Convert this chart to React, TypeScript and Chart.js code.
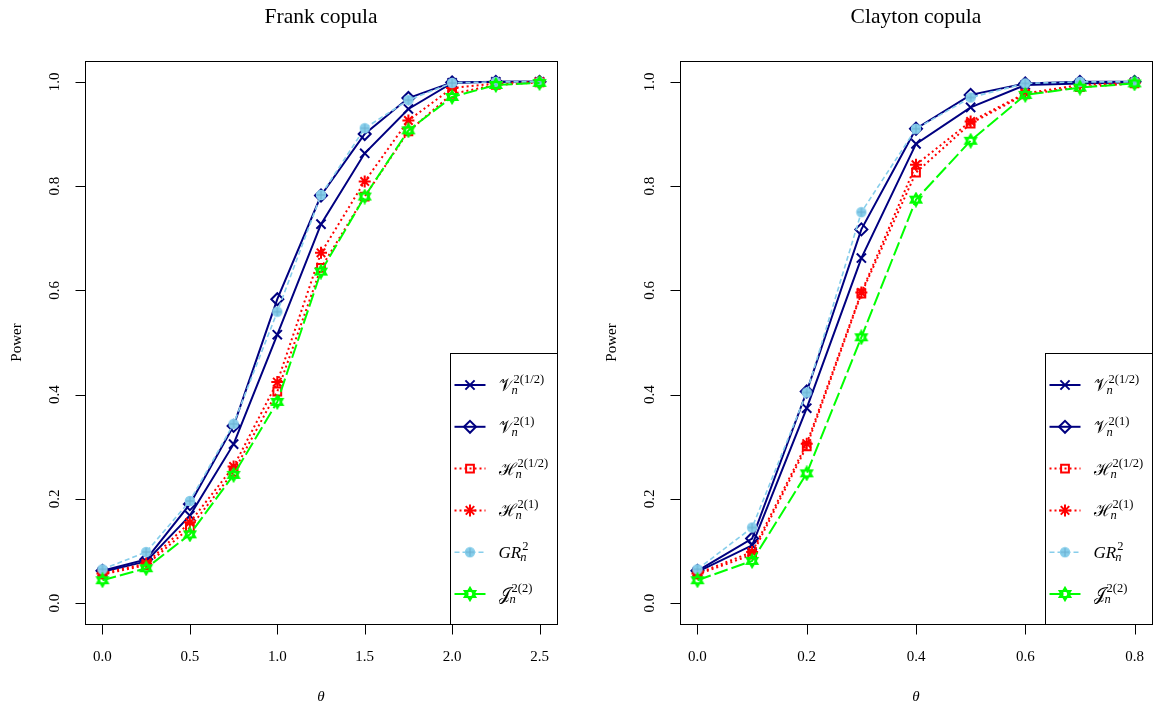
import React, { useEffect, useRef } from 'react';
import { Chart, registerables } from 'chart.js';
import { drawPoint } from 'chart.js/helpers';

Chart.register(...registerables);

// ---------- data ----------
const frankTheta = [0, 0.25, 0.5, 0.75, 1.0, 1.25, 1.5, 1.75, 2.0, 2.25, 2.5];
const frankV12 = [0.060, 0.080, 0.168, 0.305, 0.515, 0.727, 0.863, 0.948, 0.998, 1.000, 1.000];
const frankV1 = [0.062, 0.084, 0.190, 0.340, 0.583, 0.782, 0.900, 0.969, 0.999, 1.000, 1.000];
const frankH12 = [0.055, 0.073, 0.145, 0.252, 0.406, 0.643, 0.780, 0.905, 0.977, 0.994, 0.999];
const frankH1 = [0.057, 0.076, 0.155, 0.262, 0.424, 0.672, 0.809, 0.926, 0.988, 0.997, 1.000];
const frankGR = [0.065, 0.098, 0.196, 0.344, 0.559, 0.783, 0.911, 0.965, 0.998, 1.000, 1.000];
const frankJ = [0.044, 0.067, 0.132, 0.246, 0.386, 0.636, 0.780, 0.907, 0.971, 0.994, 0.998];

const claytonTheta = [0, 0.1, 0.2, 0.3, 0.4, 0.5, 0.6, 0.7, 0.8];
const claytonV12 = [0.060, 0.111, 0.374, 0.662, 0.881, 0.951, 0.994, 0.997, 0.999];
const claytonV1 = [0.062, 0.124, 0.406, 0.717, 0.910, 0.975, 0.997, 1.000, 1.000];
const claytonH12 = [0.055, 0.093, 0.301, 0.594, 0.826, 0.920, 0.976, 0.990, 0.997];
const claytonH1 = [0.057, 0.098, 0.306, 0.596, 0.841, 0.924, 0.978, 0.994, 0.998];
const claytonGR = [0.065, 0.145, 0.404, 0.750, 0.910, 0.970, 0.997, 1.000, 1.000];
const claytonJ = [0.044, 0.081, 0.249, 0.510, 0.774, 0.887, 0.975, 0.989, 0.997];

const frankXTicks = [0, 0.5, 1.0, 1.5, 2.0, 2.5];
const claytonXTicks = [0, 0.2, 0.4, 0.6, 0.8];
const powerTicks = [0, 0.2, 0.4, 0.6, 0.8, 1.0];

const legendBase = ['𝒱', '𝒱', 'ℋ', 'ℋ', 'GR', '𝒥'];
const legendSup = ['2(1/2)', '2(1)', '2(1/2)', '2(1)', '2', '2(2)'];
const seriesLabels = ['V_n^{2(1/2)}', 'V_n^{2(1)}', 'H_n^{2(1/2)}', 'H_n^{2(1)}', 'GR_n^2', 'J_n^{2(2)}'];

const SERIF = '"Liberation Serif", "Times New Roman", serif';
const NAVY = '#000080';
const RED = '#ff0000';
const SKY = '#87ceeb';
const GREEN = '#00ff00';

function makeCircleCross(): HTMLCanvasElement {
  const c = document.createElement('canvas');
  c.width = 12; c.height = 12;
  const g = c.getContext('2d')!;
  g.fillStyle = SKY;
  g.strokeStyle = SKY;
  g.lineWidth = 1.2;
  g.beginPath(); g.arc(6, 6, 4.6, 0, Math.PI * 2); g.fill(); g.stroke();
  g.strokeStyle = '#6aaed0';
  g.lineWidth = 1;
  g.beginPath(); g.moveTo(6, 1.8); g.lineTo(6, 10.2); g.moveTo(1.8, 6); g.lineTo(10.2, 6); g.stroke();
  return c;
}

function makeStarOfDavid(): HTMLCanvasElement {
  const c = document.createElement('canvas');
  c.width = 16; c.height = 16;
  const g = c.getContext('2d')!;
  g.strokeStyle = GREEN;
  g.lineWidth = 2;
  const r = 6.2;
  const tri = (a0: number) => {
    g.beginPath();
    for (let k = 0; k < 3; k++) {
      const a = a0 + (k * 2 * Math.PI) / 3;
      const px = 8 + r * Math.cos(a), py = 8 + r * Math.sin(a);
      if (k === 0) g.moveTo(px, py); else g.lineTo(px, py);
    }
    g.closePath(); g.stroke();
  };
  tri(-Math.PI / 2);
  tri(Math.PI / 2);
  return c;
}

function drawMathLabel(ctx: CanvasRenderingContext2D, x: number, baseline: number, base: string, sup: string) {
  ctx.textAlign = 'left';
  ctx.textBaseline = 'alphabetic';
  ctx.fillStyle = '#000';
  const isScript = base !== 'GR';
  ctx.font = isScript ? `17px "DejaVu Serif", ${SERIF}` : `italic 17px ${SERIF}`;
  ctx.fillText(base, x, baseline);
  const w = ctx.measureText(base).width;
  ctx.font = `12.5px ${SERIF}`;
  ctx.fillText(sup, x + w + 1, baseline - 8);
  ctx.font = `italic 12.5px ${SERIF}`;
  ctx.fillText('n', x + w - 1, baseline + 3);
}

const rDecor = {
  id: 'rDecor',
  afterDraw(chart: any, _args: any, opts: any) {
    const { ctx, chartArea: a } = chart;
    const xs = chart.scales.x, ys = chart.scales.y;
    const L = Math.round(a.left) + 0.5, T = Math.round(a.top) + 0.5;
    const R = Math.round(a.right) + 0.5, B = Math.round(a.bottom) + 0.5;
    ctx.save();
    // box
    ctx.strokeStyle = '#000';
    ctx.lineWidth = 1;
    ctx.setLineDash([]);
    ctx.strokeRect(L, T, R - L, B - T);
    // tick marks
    ctx.beginPath();
    for (const v of opts.xTicks as number[]) {
      const px = Math.round(xs.getPixelForValue(v)) + 0.5;
      ctx.moveTo(px, B); ctx.lineTo(px, B + 10);
    }
    for (const v of powerTicks) {
      const py = Math.round(ys.getPixelForValue(v)) + 0.5;
      ctx.moveTo(L, py); ctx.lineTo(L - 10, py);
    }
    ctx.stroke();
    ctx.fillStyle = '#000';
    // x tick labels
    ctx.font = `15px ${SERIF}`;
    ctx.textAlign = 'center';
    ctx.textBaseline = 'middle';
    for (const v of opts.xTicks as number[]) {
      ctx.fillText(v.toFixed(1), xs.getPixelForValue(v), a.bottom + 33);
    }
    // y tick labels (rotated)
    for (const v of powerTicks) {
      ctx.save();
      ctx.translate(a.left - 30, ys.getPixelForValue(v));
      ctx.rotate(-Math.PI / 2);
      ctx.fillText(v.toFixed(1), 0, 0);
      ctx.restore();
    }
    // axis titles
    ctx.save();
    ctx.translate(a.left - 68, (a.top + a.bottom) / 2);
    ctx.rotate(-Math.PI / 2);
    ctx.fillText('Power', 0, 0);
    ctx.restore();
    ctx.font = `italic 15px ${SERIF}`;
    ctx.fillText('θ', (a.left + a.right) / 2, a.bottom + 73);
    // title
    ctx.font = `21.5px ${SERIF}`;
    ctx.fillText(opts.title, (a.left + a.right) / 2, 17);
    // legend
    const lx = Math.round(a.right - 107.5) + 0.5, ly = Math.round(a.top + 291.7) + 0.5;
    ctx.fillStyle = '#fff';
    ctx.fillRect(lx, ly, R - lx, B - ly);
    ctx.strokeStyle = '#000';
    ctx.lineWidth = 1;
    ctx.strokeRect(lx, ly, R - lx, B - ly);
    chart.data.datasets.forEach((ds: any, i: number) => {
      const ry = ly + 31.5 + i * 41.8;
      ctx.save();
      ctx.strokeStyle = ds.borderColor;
      ctx.lineWidth = ds.borderWidth;
      ctx.setLineDash(ds.borderDash || []);
      ctx.beginPath();
      ctx.moveTo(lx + 4, ry);
      ctx.lineTo(lx + 35, ry);
      ctx.stroke();
      ctx.setLineDash([]);
      ctx.strokeStyle = ds.pointBorderColor;
      ctx.fillStyle = ds.pointBackgroundColor;
      ctx.lineWidth = ds.pointBorderWidth;
      drawPoint(ctx, { pointStyle: ds.pointStyle, rotation: 0, radius: ds.pointRadius, borderWidth: ds.pointBorderWidth }, lx + 19.5, ry);
      ctx.restore();
      drawMathLabel(ctx, lx + 48, ry + 6, legendBase[i], legendSup[i]);
    });
    ctx.restore();
  },
};

function makeConfig(title: string, theta: number[], series: number[][], xMin: number, xMax: number, xTicks: number[], rightPad: number, circ: HTMLCanvasElement, star: HTMLCanvasElement): any {
  const styles = [
    { color: NAVY, dash: [], width: 2, ps: 'crossRot', r: 6.5, pb: 2, bg: 'rgba(0,0,0,0)' },
    { color: NAVY, dash: [], width: 2, ps: 'rectRot', r: 6, pb: 2, bg: 'rgba(0,0,0,0)' },
    { color: RED, dash: [2, 3], width: 2, ps: 'rect', r: 5.5, pb: 2, bg: 'rgba(0,0,0,0)' },
    { color: RED, dash: [2, 3], width: 2, ps: 'star', r: 6, pb: 2, bg: 'rgba(0,0,0,0)' },
    { color: SKY, dash: [5, 3], width: 1.6, ps: circ, r: 5, pb: 1, bg: SKY },
    { color: GREEN, dash: [14, 4], width: 2, ps: star, r: 7, pb: 2, bg: 'rgba(0,0,0,0)' },
  ];
  const datasets = series.map((vals, i) => ({
    label: seriesLabels[i],
    data: theta.map((x, k) => ({ x, y: vals[k] })),
    borderColor: styles[i].color,
    backgroundColor: styles[i].bg,
    borderWidth: styles[i].width,
    borderDash: styles[i].dash,
    pointStyle: styles[i].ps,
    pointRadius: styles[i].r,
    pointHoverRadius: styles[i].r,
    pointBorderWidth: styles[i].pb,
    pointBorderColor: styles[i].color,
    pointBackgroundColor: styles[i].bg,
    tension: 0,
    fill: false,
    clip: false,
    order: 5 - i,
  }));
  const setTicks = (vals: number[]) => (s: any) => { s.ticks = vals.map((v) => ({ value: v })); };
  const zeroPad = (s: any) => { s.paddingLeft = 0; s.paddingRight = 0; s.paddingTop = 0; s.paddingBottom = 0; };
  return {
    type: 'line',
    data: { datasets },
    options: {
      responsive: false,
      animation: false,
      events: [],
      layout: { padding: { top: 61, right: rightPad, left: 0, bottom: 0 } },
      scales: {
        x: {
          type: 'linear', min: xMin, max: xMax,
          afterBuildTicks: setTicks(xTicks),
          afterFit: (s: any) => { s.height = 83; zeroPad(s); },
          grid: { display: false },
          border: { display: false },
          ticks: { display: false },
        },
        y: {
          type: 'linear', min: -0.04, max: 1.04,
          afterBuildTicks: setTicks(powerTicks),
          afterFit: (s: any) => { s.width = 85; zeroPad(s); },
          grid: { display: false },
          border: { display: false },
          ticks: { display: false },
        },
      },
      plugins: {
        legend: { display: false },
        tooltip: { enabled: false },
        title: { display: false },
        rDecor: { title, xTicks },
      },
    },
    plugins: [rDecor],
  };
}

export default function App() {
  const leftRef = useRef<HTMLCanvasElement>(null);
  const rightRef = useRef<HTMLCanvasElement>(null);
  useEffect(() => {
    document.body.style.margin = '0';
    const circ = makeCircleCross();
    const star = makeStarOfDavid();
    const c1 = new Chart(leftRef.current!, makeConfig('Frank copula', frankTheta,
      [frankV12, frankV1, frankH12, frankH1, frankGR, frankJ], -0.1, 2.6, frankXTicks, 20, circ, star));
    const c2 = new Chart(rightRef.current!, makeConfig('Clayton copula', claytonTheta,
      [claytonV12, claytonV1, claytonH12, claytonH1, claytonGR, claytonJ], -0.032, 0.832, claytonXTicks, 9, circ, star));
    return () => { c1.destroy(); c2.destroy(); };
  }, []);
  return (
    <div style={{ position: 'relative', width: 1154, height: 707, background: '#fff', overflow: 'hidden' }}>
      <canvas ref={leftRef} width={577} height={707} style={{ position: 'absolute', left: 0, top: 0 }} />
      <canvas ref={rightRef} width={566} height={707} style={{ position: 'absolute', left: 595, top: 0 }} />
    </div>
  );
}
